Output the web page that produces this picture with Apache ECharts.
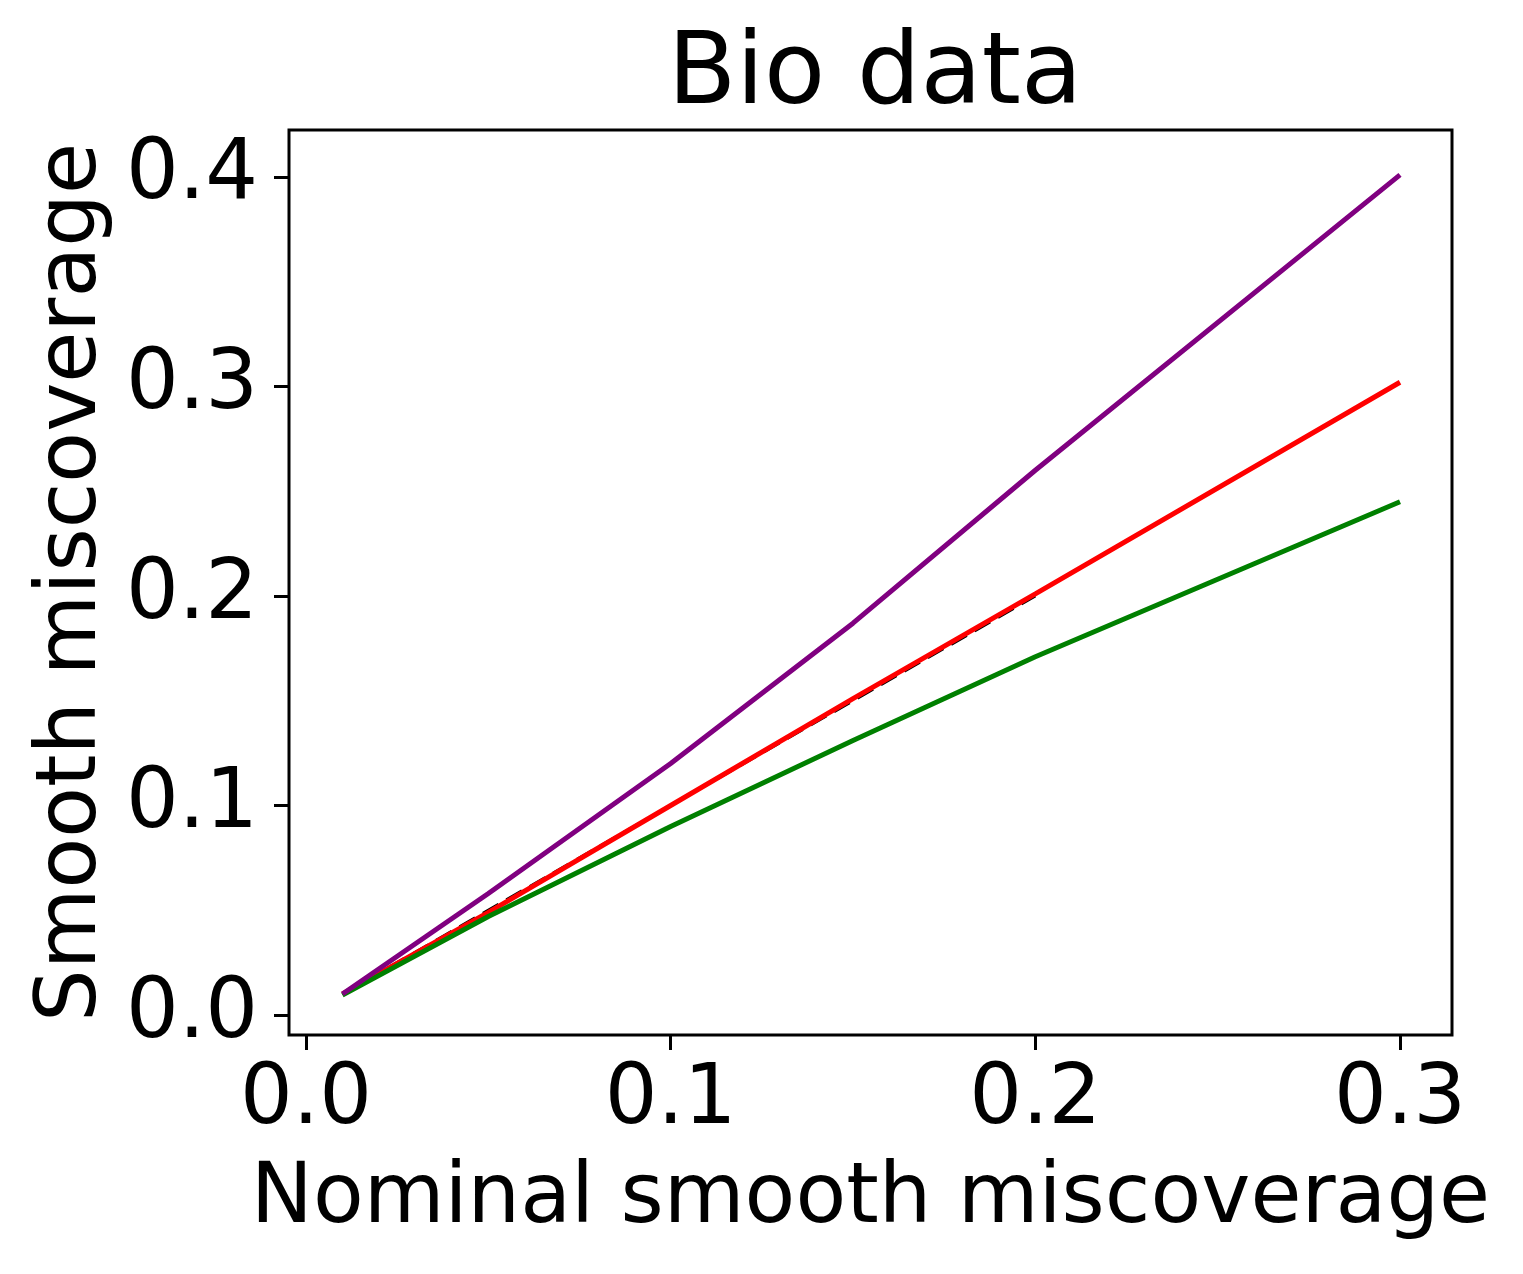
<!DOCTYPE html>
<html style="height: 100%">
<head>
  <meta charset="utf-8">
  <script type="text/javascript" src="https://cdn.jsdelivr.net/npm/echarts@6/dist/echarts.min.js"></script>
</head>
<body style="height: 100%; margin: 0; background: #fff">
  <div id="container" style="width: 1523px; height: 1274px"></div>
  <script type="text/javascript">
    // nominal levels on the x axis
    var nominal = [0.01, 0.05, 0.1, 0.15, 0.2, 0.3];
    // observed smooth miscoverage for each method
    var purpleVals = [0.010, 0.058, 0.120, 0.187, 0.260, 0.401];
    var redVals = [0.010, 0.049, 0.100, 0.151, 0.201, 0.302];
    var greenVals = [0.0095, 0.047, 0.090, 0.131, 0.171, 0.245];
    // ideal y = x reference
    var idealX = [0.01, 0.2];
    var xTicks = [0.0, 0.1, 0.2, 0.3];
    var yTicks = [0.0, 0.1, 0.2, 0.3, 0.4];

    function pairs(xs, ys) {
      return xs.map(function (x, i) { return [x, ys[i]]; });
    }

    var font = 'DejaVu Sans';
    var dom = document.getElementById('container');
    var myChart = echarts.init(dom);

    var option = {
      backgroundColor: '#fff',
      animation: false,
      title: {
        text: 'Bio data',
        left: 870,
        top: 22,
        textAlign: 'center',
        textStyle: { fontFamily: font, fontSize: 100, fontWeight: 'normal', color: '#000' }
      },
      grid: {
        left: 289, top: 130, width: 1163, height: 905,
        outerBoundsMode: 'none', containLabel: false,
        show: true, borderColor: '#000', borderWidth: 3, backgroundColor: '#fff'
      },
      xAxis: {
        type: 'value',
        min: -0.00466,
        max: 0.31426,
        name: 'Nominal smooth miscoverage',
        nameLocation: 'middle',
        nameGap: 124,
        nameTextStyle: { fontFamily: font, fontSize: 83, color: '#000' },
        axisLine: { show: false, onZero: false },
        splitLine: { show: false },
        axisTick: { show: true, inside: false, length: 15, lineStyle: { color: '#000', width: 3 }, customValues: xTicks },
        axisLabel: {
          customValues: xTicks,
          margin: 25,
          fontFamily: font, fontSize: 83, color: '#000',
          formatter: function (v) { return v.toFixed(1); }
        }
      },
      yAxis: {
        type: 'value',
        min: -0.00955,
        max: 0.4224,
        name: 'Smooth miscoverage',
        nameLocation: 'middle',
        nameGap: 174,
        nameTextStyle: { fontFamily: font, fontSize: 83, color: '#000' },
        axisLine: { show: false, onZero: false },
        splitLine: { show: false },
        axisTick: { show: true, inside: false, length: 15, lineStyle: { color: '#000', width: 3 }, customValues: yTicks },
        axisLabel: {
          customValues: yTicks,
          margin: 31,
          fontFamily: font, fontSize: 83, color: '#000',
          formatter: function (v) { return v.toFixed(1); }
        }
      },
      series: [
        {
          name: 'ideal', type: 'line', symbol: 'none',
          data: pairs(idealX, idealX),
          lineStyle: { color: '#000', width: 3, type: [18, 9] }
        },
        {
          name: 'red', type: 'line', symbol: 'none',
          data: pairs(nominal, redVals),
          lineStyle: { color: '#ff0000', width: 5 }
        },
        {
          name: 'green', type: 'line', symbol: 'none',
          data: pairs(nominal, greenVals),
          lineStyle: { color: '#008000', width: 5 }
        },
        {
          name: 'purple', type: 'line', symbol: 'none',
          data: pairs(nominal, purpleVals),
          lineStyle: { color: '#800080', width: 5 }
        }
      ]
    };

    myChart.setOption(option);
  </script>
</body>
</html>
